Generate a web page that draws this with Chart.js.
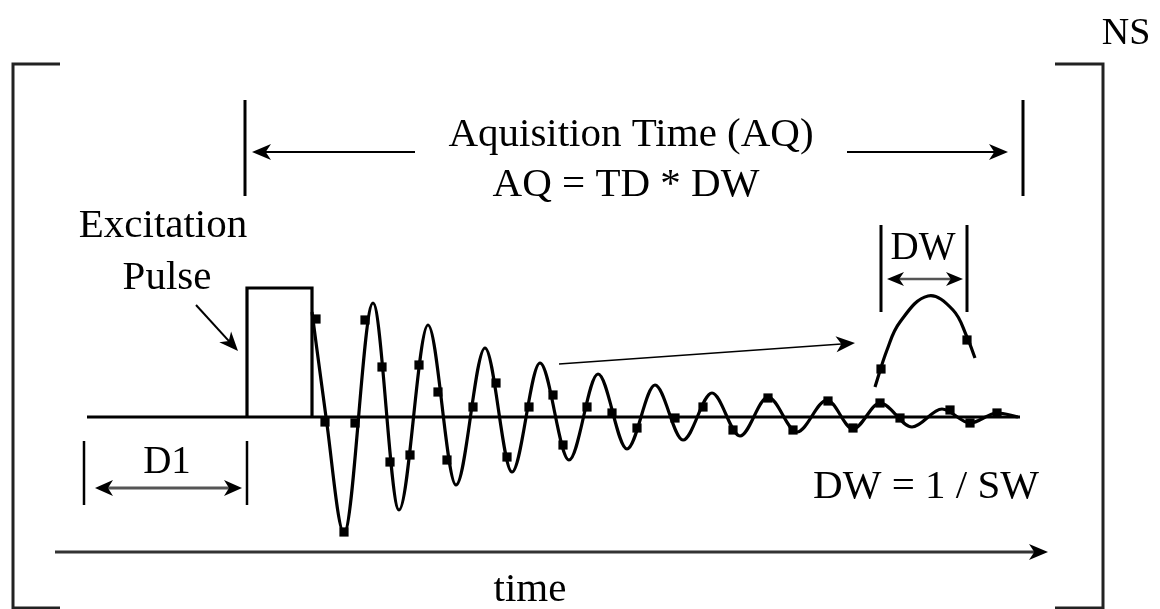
<!DOCTYPE html>
<html>
<head>
<meta charset="utf-8">
<title>NMR acquisition scheme</title>
<script src="https://cdn.jsdelivr.net/npm/chart.js@4.4.1/dist/chart.umd.min.js"></script>
<style>
  html, body { margin: 0; padding: 0; background: #fff; }
  #wrap { width: 1160px; height: 609px; }
</style>
</head>
<body>
<div id="wrap"><canvas id="fid" width="1160" height="609"></canvas></div>
<script>
// Time runs left to right (arbitrary units), amplitude is 0 on the baseline.

// Baseline the signal sits on
const baseTime = [8.7, 102.0];
const baseAmp = [0, 0];

// Excitation pulse (rectangle)
const pulseTime = [24.7, 24.7, 31.2, 31.2];
const pulseAmp = [0, 12.9, 12.9, 0];

// Decaying FID: start, first zero crossing, then alternating extrema
const fidTime = [31.2, 32.6, 34.4, 37.3, 39.9, 42.8, 45.6, 48.5, 51.2, 54.0, 56.9, 59.8, 62.7, 65.5,
                 68.3, 71.2, 74.0, 76.8, 79.7, 82.7, 85.3, 88.0, 91.2, 94.2, 97.0, 99.7, 101.8];
const fidAmp = [10.5, 0, -11.6, 11.4, -9.3, 9.2, -6.8, 6.9, -5.5, 5.4, -4.3, 4.3, -3.2, 3.2,
                -2.3, 2.4, -1.9, 2.0, -1.5, 1.7, -1.2, 1.4, -1.0, 0.8, -0.6, 0.4, 0];

const sampleTime = [31.6, 32.5, 34.4, 35.5, 36.5, 38.2, 39.0, 41.0, 41.9, 43.8, 44.7, 47.3, 49.6, 50.7,
                    52.9, 55.3, 56.3, 58.7, 61.2, 63.7, 67.5, 70.3, 73.3, 76.8, 79.3, 82.8, 85.3,
                    88.0, 90.0, 95.0, 97.0, 99.7];
const sampleAmp = [9.8, -0.5, -11.5, -0.6, 9.7, 5.0, -4.5, -3.8, 5.2, 2.5, -4.3, 1.0, 3.4, -4.0,
                   1.0, 2.2, -2.8, 1.0, 0.4, -1.1, -0.1, 1.0, -1.3, 1.9, -1.3, 1.6, -1.1,
                   1.4, -0.1, 0.7, -0.6, 0.4];

// Magnified view of one dwell interval
const zoomTime = [87.5, 88.7, 90.0, 92.8, 95.3, 96.7, 97.5];
const zoomAmp = [3.0, 6.7, 9.5, 12.1, 10.7, 8.0, 5.9];
const zoomSampleTime = [88.1, 96.7];
const zoomSampleAmp = [4.8, 7.7];

// Interval markers on the time axis
const d1Start = 8.4;
const pulseStart = 24.7;
const aqStart = 24.5;
const aqEnd = 102.3;
const dwStart = 88.1;
const dwEnd = 96.7;

const toPoints = (xs, ys) => xs.map((t, i) => ({ x: t, y: ys[i] }));

const INK = '#000';
const SERIF = '"Liberation Serif", "Times New Roman", serif';

/**
 * Filled arrow head with a slightly swept back edge
 */
function arrowHead(ctx, tx, ty, angle, len = 19, half = 8) {
    ctx.save();
    ctx.translate(tx, ty);
    ctx.rotate(angle);
    ctx.beginPath();
    ctx.moveTo(0, 0);
    ctx.lineTo(-len, -half);
    ctx.lineTo(-len * 0.72, 0);
    ctx.lineTo(-len, half);
    ctx.closePath();
    ctx.fill();
    ctx.restore();
}

function arrow(ctx, x0, y0, x1, y1, width = 2) {
    const ang = Math.atan2(y1 - y0, x1 - x0);
    ctx.lineWidth = width;
    ctx.beginPath();
    ctx.moveTo(x0, y0);
    ctx.lineTo(x1 - Math.cos(ang) * 10, y1 - Math.sin(ang) * 10);
    ctx.stroke();
    arrowHead(ctx, x1, y1, ang);
}

function segment(ctx, x0, y0, x1, y1, width = 3) {
    ctx.lineWidth = width;
    ctx.beginPath();
    ctx.moveTo(x0, y0);
    ctx.lineTo(x1, y1);
    ctx.stroke();
}

function label(ctx, text, x, y, size = 41) {
    ctx.font = size + 'px ' + SERIF;
    ctx.textAlign = 'center';
    ctx.textBaseline = 'middle';
    ctx.fillText(text, x, y);
}

// Brackets, interval arrows and labels, placed in data units
const annotationPlugin = {
    id: 'pulseAnnotations',
    afterDatasetsDraw(chart) {
        const { ctx, scales: { x, y } } = chart;
        const px = v => x.getPixelForValue(v);
        const py = v => y.getPixelForValue(v);

        ctx.save();
        ctx.strokeStyle = INK;
        ctx.fillStyle = INK;
        ctx.lineCap = 'butt';

        // NS repeat brackets
        ctx.strokeStyle = '#222';
        ctx.lineWidth = 3;
        ctx.beginPath();
        ctx.moveTo(px(6.0), py(35.3));
        ctx.lineTo(px(1.3), py(35.3));
        ctx.lineTo(px(1.3), py(-19.1));
        ctx.lineTo(px(6.0), py(-19.1));
        ctx.stroke();
        ctx.beginPath();
        ctx.moveTo(px(105.5), py(35.3));
        ctx.lineTo(px(110.3), py(35.3));
        ctx.lineTo(px(110.3), py(-19.1));
        ctx.lineTo(px(105.5), py(-19.1));
        ctx.stroke();
        ctx.strokeStyle = INK;

        // Acquisition window
        segment(ctx, px(aqStart), py(31.7), px(aqStart), py(22.1));
        segment(ctx, px(aqEnd), py(31.7), px(aqEnd), py(22.1));
        arrow(ctx, px(41.5), py(26.5), px(aqStart + 0.7), py(26.5));
        arrow(ctx, px(84.7), py(26.5), px(aqEnd - 1.5), py(26.5));

        // Relaxation delay D1
        segment(ctx, px(d1Start), py(-2.4), px(d1Start), py(-8.8), 2.5);
        segment(ctx, px(pulseStart), py(-2.4), px(pulseStart), py(-8.8), 2.5);
        ctx.strokeStyle = '#555';
        segment(ctx, px(d1Start + 1.5), py(-7.1), px(pulseStart - 1.5), py(-7.1), 3);
        ctx.strokeStyle = INK;
        arrowHead(ctx, px(d1Start + 1.1), py(-7.1), Math.PI, 18, 8);
        arrowHead(ctx, px(pulseStart - 0.5), py(-7.1), 0, 18, 8);

        // Dwell time bracket over the magnified sample
        segment(ctx, px(dwStart), py(19.2), px(dwStart), py(10.5));
        segment(ctx, px(dwEnd), py(19.2), px(dwEnd), py(10.5));
        ctx.strokeStyle = '#555';
        segment(ctx, px(dwStart + 1.5), py(13.8), px(dwEnd - 1.5), py(13.8), 2.5);
        ctx.strokeStyle = INK;
        arrowHead(ctx, px(dwStart + 0.6), py(13.8), Math.PI, 17, 7);
        arrowHead(ctx, px(dwEnd - 0.4), py(13.8), 0, 17, 7);

        // Pointers
        arrow(ctx, px(19.6), py(11.2), px(23.8), py(6.6), 2);
        arrow(ctx, px(55.9), py(5.3), px(85.5), py(7.4), 1.6);

        // Time axis
        ctx.strokeStyle = '#333';
        arrow(ctx, px(5.5), py(-13.5), px(104.8), py(-13.5), 3);

        // Labels
        label(ctx, 'NS', px(112.6), py(38.3), 38);
        label(ctx, 'Aquisition Time (AQ)', px(63.1), py(28.2));
        label(ctx, 'AQ = TD * DW', px(62.6), py(23.2));
        label(ctx, 'Excitation', px(16.3), py(19.1));
        label(ctx, 'Pulse', px(16.7), py(13.9));
        label(ctx, 'D1', px(16.7), py(-4.6), 39);
        label(ctx, 'DW', px(92.3), py(16.8), 39);
        label(ctx, 'DW = 1 / SW', px(92.6), py(-7.0));
        label(ctx, 'time', px(53.0), py(-17.3));

        ctx.restore();
    }
};

const lineStyle = {
    showLine: true,
    pointRadius: 0,
    borderColor: INK,
    borderWidth: 3.2,
    fill: false,
};

const sampleStyle = {
    showLine: false,
    pointStyle: 'rect',
    pointRadius: 6.5,
    backgroundColor: INK,
    borderWidth: 0,
};

new Chart(document.getElementById('fid'), {
    type: 'scatter',
    data: {
        datasets: [
            { label: 'baseline', data: toPoints(baseTime, baseAmp), ...lineStyle },
            { label: 'pulse', data: toPoints(pulseTime, pulseAmp), ...lineStyle, tension: 0, borderJoinStyle: 'miter' },
            { label: 'FID', data: toPoints(fidTime, fidAmp), ...lineStyle, cubicInterpolationMode: 'monotone' },
            { label: 'samples', data: toPoints(sampleTime, sampleAmp), ...sampleStyle },
            { label: 'dwell view', data: toPoints(zoomTime, zoomAmp), ...lineStyle, tension: 0.4 },
            { label: 'dwell samples', data: toPoints(zoomSampleTime, zoomSampleAmp), ...sampleStyle },
        ]
    },
    options: {
        responsive: false,
        animation: false,
        devicePixelRatio: 1,
        layout: { padding: 0, autoPadding: false },
        scales: {
            x: { type: 'linear', min: 0, max: 116, display: false },
            y: { type: 'linear', min: -19.2, max: 41.7, display: false },
        },
        plugins: {
            legend: { display: false },
            tooltip: { enabled: false },
        },
    },
    plugins: [annotationPlugin],
});
</script>
</body>
</html>
